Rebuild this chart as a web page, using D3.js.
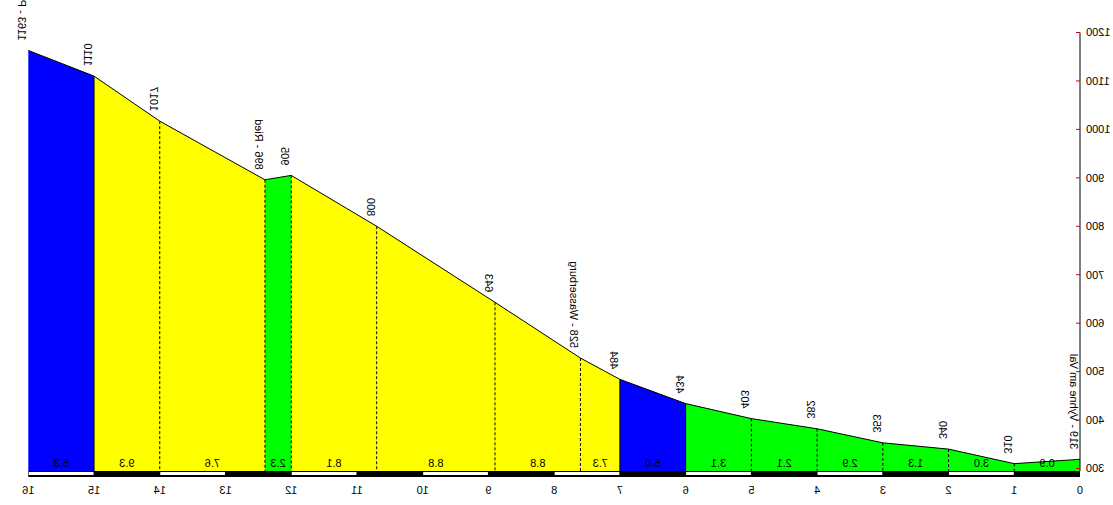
<!DOCTYPE html>
<html><head><meta charset="utf-8">
<script src="https://cdn.jsdelivr.net/npm/d3@7"></script>
<style>
body{margin:0;background:#fff;}
svg{display:block;}
text{font-family:Arial,"Liberation Sans",sans-serif;}
</style>
</head><body>
<svg id="c" width="1113" height="505"></svg>
<script>
// ---- data ----
const km = [0, 1, 2, 3, 4, 5, 6, 7, 7.6, 8.9, 10.7, 12, 12.4, 14, 15, 16];
const elevation = [319, 310, 340, 353, 382, 403, 434, 484, 528, 643, 800, 905, 896, 1017, 1110, 1163];
const pointLabels = ["319 - Vyhne am Val", "310", "340", "353", "382", "403", "434", "484",
  "528 - Wasserburg", "643", "800", "905", "896 - Ried", "1017", "1110", "1163 - Pass"];
const gradients = ["0.9", "3.0", "1.3", "2.9", "2.1", "3.1", "5.0", "7.3", "8.8", "8.8", "8.1", "2.3", "7.6", "9.3", "5.3"];
const yTicks = [300, 400, 500, 600, 700, 800, 900, 1000, 1100, 1200];
const kmTicks = [0, 1, 2, 3, 4, 5, 6, 7, 8, 9, 10, 11, 12, 13, 14, 15, 16];

function gradColor(g) {
  const v = +g;
  if (v < 4) return "#00ff00";
  if (v < 6) return "#0000ff";
  return "#ffff00";
}

const W = 1113, H = 505;
const svg = d3.select("#c");
// the whole chart is drawn mirrored horizontally
const g = svg.append("g").attr("transform", `translate(${W},0) scale(-1,1)`);

const x = d3.scaleLinear().domain([0, 16]).range([33, 1084.7]);
const y = d3.scaleLinear().domain([300, 1200]).range([468.5, 32.5]);
const base = 471;

const pts = km.map((d, i) => ({ d, e: elevation[i], label: pointLabels[i] }));
const segs = gradients.map((gr, i) => ({ a: pts[i], b: pts[i + 1], gr, col: gradColor(gr) }));

// filled segments
g.selectAll("path.seg").data(segs).enter().append("path")
  .attr("class", "seg")
  .attr("fill", s => s.col)
  .attr("d", s => `M${x(s.a.d)},${base}L${x(s.a.d)},${y(s.a.e)}L${x(s.b.d)},${y(s.b.e)}L${x(s.b.d)},${base}Z`);

// separators
g.selectAll("line.sep").data(pts.slice(1, -1)).enter().append("line")
  .attr("x1", p => x(p.d)).attr("x2", p => x(p.d))
  .attr("y1", p => y(p.e)).attr("y2", base)
  .attr("stroke", "#000").attr("stroke-width", 1)
  .attr("stroke-dasharray", (p, i) => (segs[i].col === "#0000ff" || segs[i + 1].col === "#0000ff") ? null : "3,2");

// profile line
g.append("path").datum(pts)
  .attr("fill", "none").attr("stroke", "#000").attr("stroke-width", 1)
  .attr("d", d3.line().x(p => x(p.d)).y(p => y(p.e)));

// km strip
g.append("rect").attr("x", x(0)).attr("y", base).attr("width", x(16) - x(0)).attr("height", 6).attr("fill", "#000");
g.selectAll("rect.w").data(kmTicks.slice(0, -1).filter(k => k % 2 === 1)).enter().append("rect")
  .attr("x", k => x(k) + 0.5).attr("y", base + 1).attr("width", k => x(k + 1) - x(k) - 1).attr("height", 3).attr("fill", "#fff");

// km labels
g.selectAll("text.km").data(kmTicks).enter().append("text")
  .attr("x", k => x(k)).attr("y", 494).attr("text-anchor", "middle")
  .attr("font-size", 11).attr("fill", "#000").text(k => k);

// y axis
g.append("line").attr("x1", x(0)).attr("x2", x(0)).attr("y1", y(1200)).attr("y2", base).attr("stroke", "#000");
g.selectAll("line.tk").data(yTicks).enter().append("line")
  .attr("x1", x(0)).attr("x2", x(0) + 4).attr("y1", t => y(t)).attr("y2", t => y(t))
  .attr("stroke", "#cc0000");
g.selectAll("text.yt").data(yTicks).enter().append("text")
  .attr("x", 27).attr("y", t => y(t)).attr("dy", "0.35em").attr("text-anchor", "end")
  .attr("font-size", 11).attr("fill", "#000").text(t => t);

// gradient labels
g.selectAll("text.gr").data(segs).enter().append("text")
  .attr("x", s => (x(s.a.d) + x(s.b.d)) / 2).attr("y", 467).attr("text-anchor", "middle")
  .attr("font-size", 11).attr("fill", "#000").text(s => s.gr);

// elevation labels
g.selectAll("text.el").data(pts).enter().append("text")
  .attr("transform", p => `translate(${x(p.d) + 10},${y(p.e) - 10}) rotate(-90)`)
  .attr("font-size", 11).attr("fill", "#000").text(p => p.label);
</script>
</body></html>
